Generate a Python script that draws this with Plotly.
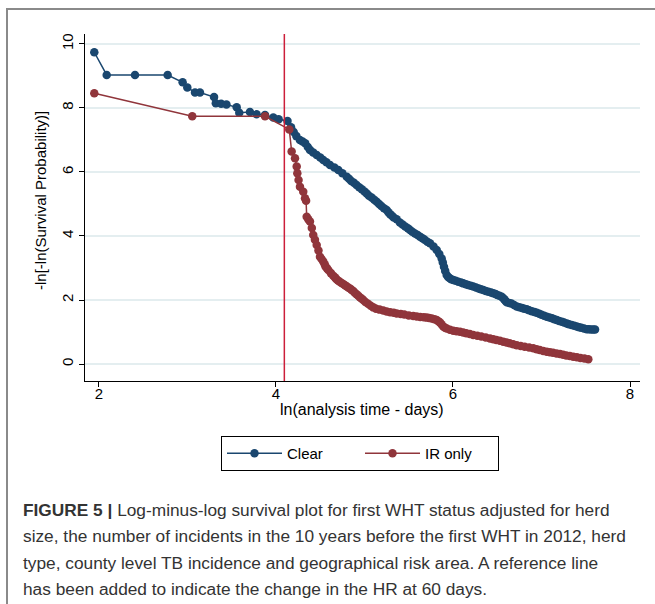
import plotly.graph_objects as go
import math

# ---- data ----
clear_x = [1.947, 2.087, 2.407, 2.776, 2.945, 2.998, 3.085, 3.141, 3.300, 3.320, 3.380, 3.440,
           3.556, 3.585, 3.706, 3.780, 3.876, 3.970, 4.030, 4.130,
           4.17, 4.20, 4.23, 4.27, 4.30, 4.33, 4.36, 4.384, 4.42, 4.46, 4.50, 4.534, 4.57, 4.61,
           4.66, 4.704, 4.75, 4.80, 4.825, 4.85, 4.88, 4.91, 4.94, 4.97, 5.00, 5.025, 5.05, 5.08,
           5.11, 5.138, 5.165, 5.19, 5.22, 5.25, 5.27, 5.29, 5.31, 5.33,
           5.364, 5.40, 5.43, 5.46, 5.49, 5.514, 5.54, 5.57, 5.60, 5.627, 5.655, 5.68, 5.71, 5.74,
           5.78, 5.816, 5.845, 5.872, 5.885, 5.898, 5.912, 5.929, 5.945, 5.96, 5.98, 6.003, 6.03,
           6.06, 6.09, 6.116, 6.145, 6.17, 6.20, 6.229, 6.26, 6.29, 6.315, 6.342, 6.37, 6.40,
           6.43, 6.455, 6.48, 6.50, 6.525, 6.550, 6.565, 6.58, 6.595, 6.607, 6.635, 6.66, 6.69,
           6.720, 6.75, 6.78, 6.805, 6.833, 6.86, 6.89, 6.92, 6.946, 6.975, 7.00, 7.03, 7.059,
           7.09, 7.12, 7.145, 7.172, 7.20, 7.23, 7.255, 7.285, 7.31, 7.34, 7.37, 7.398, 7.425,
           7.45, 7.48, 7.511, 7.535, 7.56, 7.585, 7.605]
clear_y = [9.74, 9.03, 9.03, 9.03, 8.80, 8.64, 8.48, 8.48, 8.34, 8.15, 8.13, 8.11,
           8.02, 7.85, 7.87, 7.80, 7.78, 7.70, 7.65, 7.59,
           7.40, 7.25, 7.12, 7.00, 6.95, 6.90, 6.78, 6.69, 6.61, 6.53, 6.45, 6.375, 6.30, 6.22,
           6.14, 6.06, 5.96, 5.85, 5.79, 5.72, 5.66, 5.59, 5.52, 5.46, 5.39, 5.33, 5.26, 5.20,
           5.13, 5.07, 5.00, 4.94, 4.87, 4.81, 4.74, 4.68, 4.63, 4.58,
           4.52, 4.42, 4.36, 4.30, 4.24, 4.19, 4.13, 4.08, 4.03, 3.98, 3.93, 3.88, 3.82, 3.77,
           3.67, 3.56, 3.44, 3.30, 3.17, 3.04, 2.91, 2.78, 2.72, 2.69, 2.65, 2.625, 2.60,
           2.57, 2.545, 2.52, 2.495, 2.47, 2.445, 2.42, 2.39, 2.36, 2.335, 2.31, 2.285, 2.26,
           2.235, 2.21, 2.185, 2.16, 2.13, 2.10, 2.06, 2.02, 1.97, 1.93, 1.91, 1.89, 1.845,
           1.80, 1.775, 1.75, 1.73, 1.71, 1.68, 1.65, 1.625, 1.60, 1.57, 1.54, 1.51, 1.48,
           1.455, 1.43, 1.40, 1.375, 1.345, 1.32, 1.295, 1.27, 1.245, 1.22, 1.195, 1.17, 1.15,
           1.13, 1.11, 1.09, 1.085, 1.08, 1.08, 1.08]

ir_x = [1.947, 3.054, 3.876, 4.150, 4.177, 4.215, 4.234, 4.241, 4.255, 4.271, 4.308, 4.328,
        4.340, 4.347, 4.365, 4.384, 4.405, 4.421, 4.44, 4.460, 4.48, 4.497, 4.515, 4.534, 4.55,
        4.56, 4.575, 4.591, 4.62, 4.647, 4.665, 4.68, 4.70, 4.72, 4.74, 4.76, 4.78, 4.80, 4.82,
        4.84, 4.855, 4.873, 4.89, 4.91, 4.93, 4.95, 4.97, 4.986, 5.01, 5.04, 5.07, 5.099, 5.13,
        5.17, 5.212, 5.25, 5.29, 5.33, 5.364, 5.41, 5.45, 5.50, 5.551, 5.59, 5.63, 5.67, 5.703,
        5.73, 5.76, 5.79, 5.816, 5.835, 5.853, 5.87, 5.89, 5.91, 5.929, 5.965, 6.003, 6.04,
        6.079, 6.115, 6.15, 6.19, 6.229, 6.275, 6.32, 6.37, 6.418, 6.455, 6.49, 6.53, 6.568,
        6.605, 6.64, 6.68, 6.720, 6.765, 6.81, 6.86, 6.907, 6.945, 6.98, 7.02, 7.059, 7.095,
        7.13, 7.17, 7.209, 7.245, 7.28, 7.32, 7.359, 7.40, 7.44, 7.485, 7.529]
ir_y = [8.46, 7.74, 7.74, 7.33, 6.64, 6.43, 6.17, 5.96, 5.75, 5.54, 5.38, 5.18,
        5.10, 4.60, 4.52, 4.45, 4.25, 4.03, 3.88, 3.72, 3.55, 3.35, 3.28, 3.20, 3.12,
        3.05, 2.99, 2.94, 2.84, 2.76, 2.71, 2.66, 2.61, 2.57, 2.535, 2.50, 2.46, 2.42, 2.385,
        2.35, 2.315, 2.28, 2.23, 2.18, 2.13, 2.08, 2.04, 2.00, 1.94, 1.88, 1.82, 1.77, 1.73,
        1.70, 1.67, 1.64, 1.62, 1.60, 1.58, 1.56, 1.545, 1.52, 1.50, 1.485, 1.47, 1.46, 1.45,
        1.435, 1.42, 1.40, 1.375, 1.34, 1.30, 1.24, 1.17, 1.13, 1.11, 1.07, 1.04, 1.025,
        1.01, 0.985, 0.96, 0.935, 0.91, 0.885, 0.86, 0.83, 0.80, 0.775, 0.75, 0.725, 0.70,
        0.675, 0.65, 0.62, 0.59, 0.565, 0.54, 0.515, 0.49, 0.465, 0.44, 0.41, 0.385, 0.365,
        0.35, 0.33, 0.31, 0.29, 0.27, 0.25, 0.23, 0.21, 0.19, 0.17, 0.15]

series_names = ["Clear", "IR only"]
series_colors = ["#1a476f", "#90353b"]
ref_day = 60
x_ticks = [2, 4, 6, 8]
y_ticks = [0, 2, 4, 6, 8, 10]
x_title = "ln(analysis time - days)"
y_title = "-ln[-ln(Survival Probability)]"
caption_lines = [
    "<b>FIGURE 5 |</b> Log-minus-log survival plot for first WHT status adjusted for herd",
    "size, the number of incidents in the 10 years before the first WHT in 2012, herd",
    "type, county level TB incidence and geographical risk area. A reference line",
    "has been added to indicate the change in the HR at 60 days.",
]

FONT = "Liberation Sans, Arial, sans-serif"
L, T, R, B = 85, 34, 640, 381          # plot area in pixels
PW, PH = R - L, B - T


def px_x(p):
    return (p - L) / PW


def px_y(p):
    return (B - p) / PH


fig = go.Figure()
for name, xs, ys, col in [(series_names[0], clear_x, clear_y, series_colors[0]),
                          (series_names[1], ir_x, ir_y, series_colors[1])]:
    fig.add_trace(go.Scatter(
        x=xs, y=ys, name=name, mode="lines+markers",
        line=dict(color=col, width=1.5),
        marker=dict(color=col, size=8.5, line=dict(width=0)),
    ))

# reference line at ln(60 days)
fig.add_shape(type="line", xref="x", yref="paper", x0=math.log(ref_day), x1=math.log(ref_day),
              y0=0, y1=1, line=dict(color="#cc1f3a", width=1.5))

# outer figure frame (left/top edges visible)
fig.add_shape(type="rect", xref="paper", yref="paper", x0=px_x(7), x1=px_x(665),
              y0=px_y(620), y1=px_y(9), line=dict(color="#8a8a8a", width=2), layer="below")

# axis titles
fig.add_annotation(text=x_title, xref="paper", yref="paper", x=px_x(362), y=px_y(409),
                   xanchor="center", yanchor="middle", showarrow=False,
                   font=dict(family=FONT, size=16, color="black"))
fig.add_annotation(text=y_title, xref="paper", yref="paper", x=px_x(40), y=px_y(201),
                   xanchor="center", yanchor="middle", showarrow=False, textangle=-90,
                   font=dict(family=FONT, size=15, color="black"))

for i, line in enumerate(caption_lines):
    fig.add_annotation(
        text=line, xref="paper", yref="paper", x=px_x(21), xanchor="left",
        y=px_y(510 + 26.3 * i), yanchor="middle", showarrow=False,
        font=dict(family=FONT, size=17.3, color="#333333"),
    )

fig.update_layout(
    width=655, height=604,
    margin=dict(l=L, r=655 - R, t=T, b=604 - B),
    paper_bgcolor="white", plot_bgcolor="white",
    font=dict(family=FONT, size=15, color="black"),
    showlegend=True,
    legend=dict(orientation="h", x=px_x(360), xanchor="center",
                y=px_y(436), yanchor="top",
                bordercolor="black", borderwidth=1, itemwidth=55, entrywidth=68,
                font=dict(family=FONT, size=15, color="black"),
                bgcolor="white", itemclick=False),
    xaxis=dict(range=[1.842, 8.113], tickvals=x_ticks, ticks="outside", ticklen=5,
               tickcolor="black", showline=True, linecolor="black", linewidth=1,
               showgrid=False, zeroline=False, tickfont=dict(size=15),
               ticklabelstandoff=-6),
    yaxis=dict(range=[-0.53, 10.31], tickvals=y_ticks, ticks="outside", ticklen=5,
               tickcolor="black", showline=True, linecolor="black", linewidth=1,
               showgrid=True, gridcolor="#e4eef0", gridwidth=1.5, zeroline=False,
               tickangle=-90, tickfont=dict(size=15)),
)

fig.write_html("out.html", config={"displayModeBar": False},
               post_script="document.body.style.margin='0';")
